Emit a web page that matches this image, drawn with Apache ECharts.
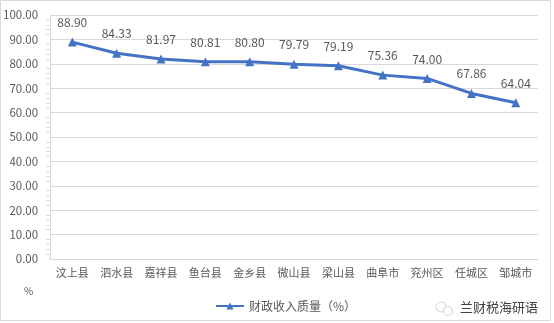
<!DOCTYPE html>
<html>
<head>
<meta charset="utf-8">
<script src="https://cdn.jsdelivr.net/npm/echarts@6/dist/echarts.min.js"></script>
<style>
  html, body { margin: 0; padding: 0; background: #fff; }
  #chart { width: 554px; height: 323px; }
</style>
</head>
<body>
<div id="chart"></div>
<script>
// Counties / districts along the x axis
const categories = ['汶上县', '泗水县', '嘉祥县', '鱼台县', '金乡县', '微山县', '梁山县', '曲阜市', '兖州区', '任城区', '邹城市'];
// Fiscal revenue quality, percent
const quality = [88.90, 84.33, 81.97, 80.81, 80.80, 79.79, 79.19, 75.36, 74.00, 67.86, 64.04];
const seriesName = '财政收入质量（%）';

const chart = echarts.init(document.getElementById('chart'), null, { renderer: 'canvas' });
const textColor = '#595959';
const font = '"Microsoft YaHei", "Noto Sans CJK SC", sans-serif';

chart.setOption({
  animation: false,
  backgroundColor: '#fff',
  grid: { left: 49, right: 16, top: 15, bottom: 64, containLabel: false },
  xAxis: {
    type: 'category',
    data: categories,
    boundaryGap: true,
    axisLine: { lineStyle: { color: '#d9d9d9' } },
    axisTick: { show: false },
    axisLabel: { color: textColor, fontSize: 11, fontFamily: font, margin: 8, interval: 0 }
  },
  yAxis: {
    type: 'value',
    min: 0, max: 100, interval: 10,
    axisLine: { show: true, lineStyle: { color: '#d9d9d9' } },
    axisTick: { show: false },
    minorTick: { show: true, splitNumber: 5, length: 4, lineStyle: { color: '#d9d9d9' } },
    splitLine: { lineStyle: { color: '#d9d9d9' } },
    axisLabel: {
      color: textColor, fontSize: 11.5, fontFamily: font, margin: 12,
      formatter: v => v.toFixed(2)
    }
  },
  legend: {
    data: [seriesName],
    left: 210, top: 295,
    itemWidth: 28, itemHeight: 9,
    textStyle: { color: textColor, fontSize: 12, fontFamily: font }
  },
  series: [{
    name: seriesName,
    type: 'line',
    data: quality,
    symbol: 'triangle',
    symbolSize: 9,
    lineStyle: { color: '#4472C4', width: 3 },
    itemStyle: { color: '#4472C4' },
    label: {
      show: true, position: 'top', distance: 9,
      color: textColor, fontSize: 12, fontFamily: font,
      formatter: p => p.value.toFixed(2)
    }
  }],
  graphic: [
    { type: 'rect', shape: { x: 0.5, y: 0.5, width: 550, height: 320 },
      style: { fill: null, stroke: '#d9d9d9', lineWidth: 1 }, silent: true },
    { type: 'text', left: 24, top: 286,
      style: { text: '%', fill: textColor, fontSize: 10, fontFamily: font } },
    { type: 'circle', shape: { cx: 441, cy: 307, r: 5 },
      style: { fill: null, stroke: '#bfbfbf', lineWidth: 1, lineDash: [2, 1] } },
    { type: 'circle', shape: { cx: 448, cy: 311, r: 4.5 },
      style: { fill: '#fff', stroke: '#bfbfbf', lineWidth: 1, lineDash: [2, 1] } },
    { type: 'text', left: 460, top: 301,
      style: { text: '兰财税海研语', fill: '#404040', fontSize: 13, fontFamily: font } }
  ]
});
</script>
</body>
</html>
